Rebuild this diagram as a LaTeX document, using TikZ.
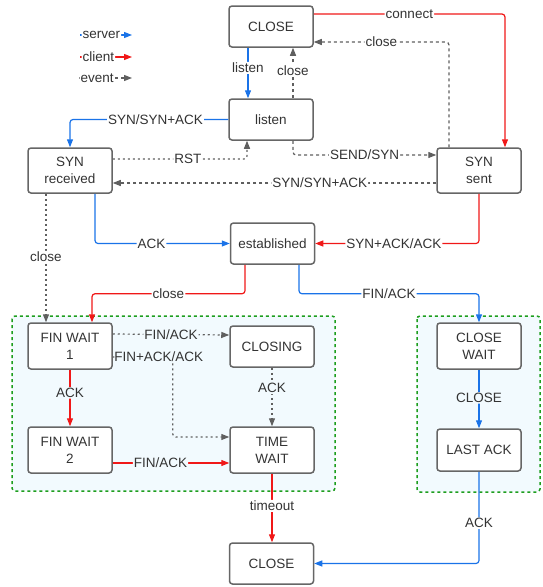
\documentclass[tikz,border=0pt]{standalone}
\usepackage{fontspec}
\setmainfont{Liberation Sans}
\usetikzlibrary{arrows.meta}
\definecolor{srv}{HTML}{1A73E8}
\definecolor{cli}{HTML}{F01818}
\definecolor{evt}{HTML}{5F5F5F}
\definecolor{boxline}{HTML}{666666}
\definecolor{txt}{HTML}{333333}
\definecolor{zonebg}{HTML}{F2FAFE}
\definecolor{zoneline}{HTML}{1E9E1E}

\begin{document}
\begin{tikzpicture}[x=1pt,y=-1pt,
  font=\fontsize{13.5}{17}\selectfont, text=txt,
  state/.style={draw=boxline, line width=1.5pt, fill=white, rounded corners=3pt,
    minimum width=84pt, align=center, inner sep=0pt},
  conn/.style={line width=1.2pt, rounded corners=3pt, -{Triangle[length=8pt,width=6pt]}},
  server/.style={conn, draw=srv},
  client/.style={conn, draw=cli},
  event/.style={conn, draw=evt, dash pattern=on 3pt off 3pt},
  eventdot/.style={conn, draw=evt, dash pattern=on 2pt off 3pt},
  lbl/.style={fill=white, inner sep=1pt, text=txt},
  zlbl/.style={fill=zonebg, inner sep=1pt, text=txt},
  zone/.style={draw=zoneline, fill=zonebg, line width=1.5pt,
    dash pattern=on 3pt off 3pt, rounded corners=3pt}
]
\useasboundingbox (0,0) rectangle (542,587);

% closing zones
\draw[zone] (12,316) rectangle (335,491);
\draw[zone] (417,316) rectangle (540,492);

% states
\node[state, minimum height=41pt] (close1)    at (271,26.5)  {CLOSE};
\node[state, minimum height=41pt] (listen)    at (271,119.5) {listen};
\node[state, minimum height=45pt] (synrcvd)   at (70,170.5)  {SYN\\received};
\node[state, minimum height=45pt] (synsent)   at (479,170.5) {SYN\\sent};
\node[state, minimum height=41pt] (estab)     at (272.5,243.5) {established};
\node[state, minimum height=46pt] (fw1)       at (70,346)    {FIN WAIT\\1};
\node[state, minimum height=41pt] (closing)   at (272,346.5) {CLOSING};
\node[state, minimum height=46pt] (fw2)       at (70,450)    {FIN WAIT\\2};
\node[state, minimum height=46pt] (timewait)  at (272,450)   {TIME\\WAIT};
\node[state, minimum height=46pt] (closewait) at (479,346)   {CLOSE\\WAIT};
\node[state, minimum height=42pt] (lastack)   at (479,450)   {LAST ACK};
\node[state, minimum height=41pt] (close2)    at (271.5,563.5) {CLOSE};

% legend
\coordinate (s0) at (80,35);  \coordinate (s1) at (132,35);
\coordinate (c0) at (80,57);  \coordinate (c1) at (132,57);
\coordinate (e0) at (79,78);  \coordinate (e1) at (132,78);
\draw[server] (s0) -- node[lbl, pos=0, anchor=west, xshift=1pt] {server} (s1);
\draw[client] (c0) -- node[lbl, pos=0, anchor=west, xshift=1pt] {client} (c1);
\draw[event]  (e0) -- node[lbl, pos=0, anchor=west] {event} (e1);

% opening
\draw[client] ([yshift=12.5pt]close1.east) -| node[lbl, pos=0.25] {connect} ([xshift=26pt]synsent.north);
\draw[event] ([xshift=-30pt]synsent.north) |- node[lbl, pos=0.75] {close} ([yshift=-15.5pt]close1.east);
\draw[server] ([xshift=-23pt]close1.south) -- node[lbl, pos=0.4] {listen} ([xshift=-23pt]listen.north);
\draw[event] ([xshift=22pt]listen.north) -- node[lbl, pos=0.54] {close} ([xshift=22pt]close1.south);
\draw[server] (listen.west) -| node[lbl, pos=0.23] {SYN/SYN+ACK} (synrcvd.north);
\draw[eventdot] ([yshift=11.5pt]synrcvd.east) -| node[lbl, pos=0.28] {RST} ([xshift=-24pt]listen.south);
\draw[event] ([xshift=22pt]listen.south) |- node[lbl, pos=0.75] {SEND/SYN} ([yshift=15.5pt]synsent.west);
\draw[event] ([yshift=-12.5pt]synsent.west) -- node[lbl, pos=0.36] {SYN/SYN+ACK} ([yshift=-12.5pt]synrcvd.east);
\draw[server] ([xshift=25pt]synrcvd.south) |- node[lbl, pos=0.71] {ACK} (estab.west);
\draw[client] (synsent.south) |- node[lbl, pos=0.76] {SYN+ACK/ACK} (estab.east);

% closing
\draw[eventdot] ([xshift=-24pt]synrcvd.south) -- node[lbl, pos=0.49] {close} ([xshift=-24pt]fw1.north);
\draw[client] ([xshift=-27.5pt]estab.south) -- ++(0,29) -| node[lbl, pos=0.25] {close} ([xshift=22pt]fw1.north);
\draw[server] ([xshift=26.5pt]estab.south) -- ++(0,29) -| node[lbl, pos=0.25] {FIN/ACK} (closewait.north);
\draw[eventdot] ([yshift=12pt]fw1.east) -- node[zlbl, pos=0.5] {FIN/ACK} ([yshift=11.5pt]closing.west);
\draw[eventdot] ([yshift=-11pt]fw1.east) -- ++(60,0) |- node[zlbl, pos=0, anchor=east, xshift=31pt, inner xsep=0pt] {FIN+ACK/ACK} ([yshift=13pt]timewait.west);
\draw[eventdot] (closing.south) -- node[zlbl, pos=0.35] {ACK} (timewait.north);
\draw[client] (fw1.south) -- node[zlbl, pos=0.41] {ACK} (fw2.north);
\draw[client] ([yshift=-13pt]fw2.east) -- node[zlbl, pos=0.41] {FIN/ACK} ([yshift=-13pt]timewait.west);
\draw[client] (timewait.south) -- node[lbl, pos=0.47] {timeout} (close2.north -| timewait.south);
\draw[server] (closewait.south) -- node[zlbl, pos=0.48] {CLOSE} (lastack.north);
\draw[server] (lastack.south) |- node[lbl, pos=0.28] {ACK} (close2.east);
\end{tikzpicture}
\end{document}
